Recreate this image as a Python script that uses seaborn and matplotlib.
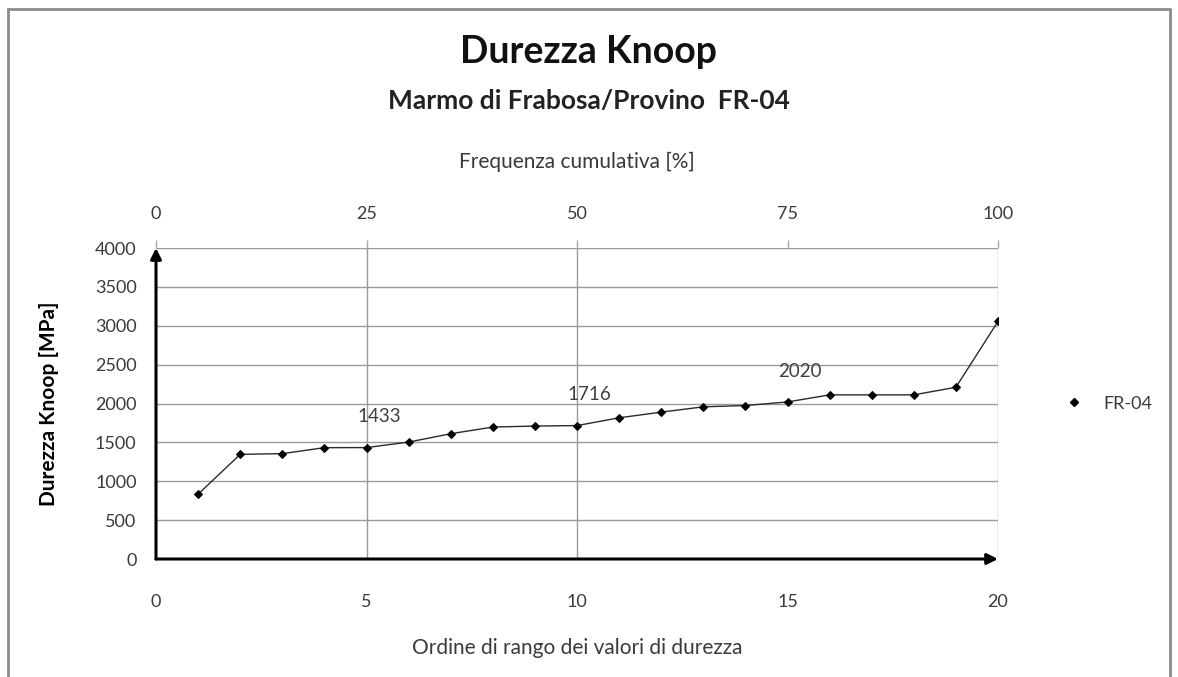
#!/usr/bin/env python3
"""Knoop hardness ranking chart for marble sample FR-04."""

import matplotlib
matplotlib.use("Agg")
import matplotlib.pyplot as plt
from matplotlib.lines import Line2D
import pandas as pd
import seaborn as sns

# rank order of the hardness values (1..20) and measured Knoop hardness [MPa]
RANKS = list(range(1, 21))
HARDNESS = [833, 1346, 1355, 1432, 1433, 1504, 1611, 1697, 1710, 1716,
            1816, 1889, 1957, 1974, 2020, 2111, 2111, 2111, 2209, 3056]
SERIES = "FR-04"

# quartile labels shown on the curve (rank, value)
QUARTILE_RANKS = [5, 10, 15]
QUARTILE_VALUES = [1433, 1716, 2020]

X_TICKS = [0, 5, 10, 15, 20]
Y_TICKS = [0, 500, 1000, 1500, 2000, 2500, 3000, 3500, 4000]
TOP_TICKS = [0, 25, 50, 75, 100]
VGRID = [5, 10, 20]

TEXT = "#3a3a3a"

sns.set_theme(style="white")
plt.rcParams["font.family"] = ["Lato", "DejaVu Sans"]

df = pd.DataFrame({"rank": RANKS, "hardness": HARDNESS, "series": SERIES})

fig = plt.figure(figsize=(11.78, 6.77), dpi=100)
ax = fig.add_axes([156 / 1178, 1 - 559 / 677, (998 - 156) / 1178, (559 - 248) / 677])

for y in Y_TICKS[1:]:
    ax.axhline(y, color="#9a9a9a", lw=1.0, zorder=0)
for x in VGRID:
    ax.axvline(x, color="#9a9a9a", lw=1.0, zorder=0)

sns.lineplot(data=df, x="rank", y="hardness", ax=ax, color="#2a2a2a",
             lw=1.0, marker="D", markersize=4.5, markerfacecolor="black",
             markeredgecolor="black", legend=False)

for r, v in zip(QUARTILE_RANKS, QUARTILE_VALUES):
    ax.annotate(str(v), xy=(r, v), xytext=(9, 16), textcoords="offset points",
                ha="center", va="bottom", fontsize=13.5, color="#404040")

ax.set_xlim(0, 20)
ax.set_ylim(0, 4000)
ax.set_xticks(X_TICKS)
ax.set_yticks(Y_TICKS)
ax.tick_params(axis="both", direction="out", length=6, width=1, color="#555555",
               labelsize=13, labelcolor=TEXT)
ax.tick_params(axis="x", pad=19)
ax.tick_params(axis="y", pad=8)
for s in ax.spines.values():
    s.set_visible(False)

# axes drawn as arrows
ax.annotate("", xy=(1.0, 0), xytext=(0, 0), xycoords="axes fraction",
            arrowprops=dict(arrowstyle="-|>", lw=2.2, color="black",
                            mutation_scale=16, shrinkA=0, shrinkB=0))
ax.annotate("", xy=(0, 1.0), xytext=(0, 0), xycoords="axes fraction",
            arrowprops=dict(arrowstyle="-|>", lw=2.2, color="black",
                            mutation_scale=16, shrinkA=0, shrinkB=0))

ax.set_xlabel("Ordine di rango dei valori di durezza", fontsize=15,
              color=TEXT, labelpad=20)
ax.set_ylabel("Durezza Knoop [MPa]", fontsize=15, fontweight="bold",
              color="black", labelpad=26)

top = ax.secondary_xaxis("top", functions=(lambda x: x * 5, lambda p: p / 5))
top.set_xticks(TOP_TICKS)
top.tick_params(direction="out", length=6, width=1, color="#aaaaaa",
                labelsize=13, labelcolor=TEXT, pad=13)
top.spines["top"].set_visible(False)
top.set_xlabel("Frequenza cumulativa [%]", fontsize=15, color=TEXT, labelpad=27)

handle = Line2D([], [], ls="none", marker="D", markersize=4.5, color="black")
ax.legend([handle], [SERIES], loc="center left", bbox_to_anchor=(1.05, 0.5),
          frameon=False, fontsize=13, handletextpad=0.6, labelcolor=TEXT)

fig.text(0.5, 1 - 52 / 677, "Durezza Knoop", ha="center", va="center",
         fontsize=27, fontweight="bold", color="#111111")
fig.text(0.5, 1 - 101 / 677, "Marmo di Frabosa/Provino  FR-04", ha="center",
         va="center", fontsize=19, fontweight="bold", color="#222222")

# outer chart frame
for xs, ys in [([8 / 1178, 8 / 1178], [0, 1 - 9 / 677]),
               ([8 / 1178, 1170 / 1178], [1 - 9 / 677, 1 - 9 / 677]),
               ([1170 / 1178, 1170 / 1178], [0, 1 - 9 / 677])]:
    fig.add_artist(Line2D(xs, ys, transform=fig.transFigure, color="#8c8c8c", lw=2))

fig.savefig("out.png", dpi=100)
